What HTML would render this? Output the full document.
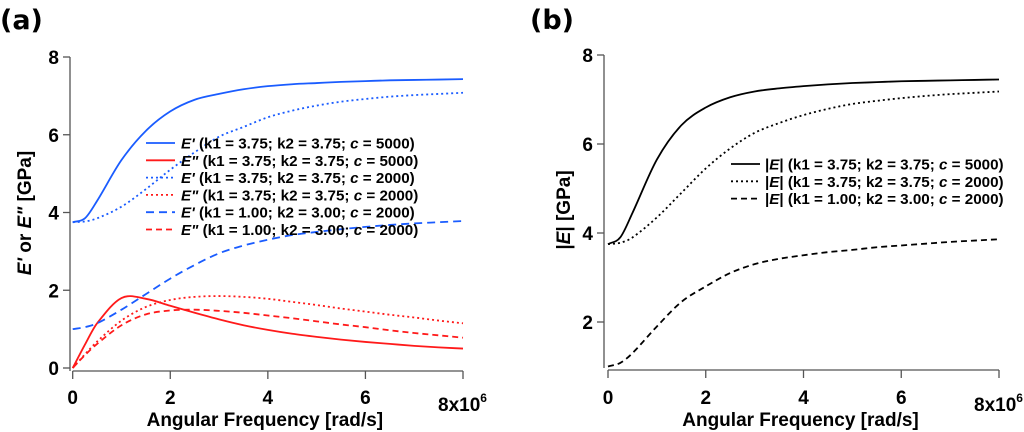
<!DOCTYPE html>
<html><head><meta charset="utf-8"><style>
body{margin:0;background:#fff}
svg{display:block;font-family:"Liberation Sans",Arial,sans-serif;font-weight:bold}
</style></head><body>
<svg id="c" width="1024" height="432" viewBox="0 0 1024 432"></svg>
<script>
const xs=[0,0.25,0.5,1,1.5,2,2.5,3,3.5,4,4.5,5,5.5,6,6.5,7,7.5,8];
const ep5000=[3.75,3.85,4.3,5.35,6.1,6.6,6.9,7.05,7.17,7.25,7.3,7.33,7.36,7.38,7.4,7.41,7.42,7.43];
const ep2000=[3.75,3.77,3.85,4.15,4.6,5.1,5.55,5.95,6.2,6.45,6.62,6.75,6.85,6.92,6.98,7.02,7.05,7.08];
const epK1=[1.0,1.05,1.15,1.5,1.9,2.3,2.65,2.95,3.15,3.3,3.42,3.5,3.57,3.63,3.68,3.72,3.75,3.78];
const epp5000=[0,0.6,1.15,1.8,1.78,1.6,1.42,1.25,1.1,0.98,0.88,0.8,0.73,0.67,0.62,0.57,0.53,0.5];
const epp2000=[0,0.35,0.68,1.22,1.57,1.75,1.83,1.85,1.83,1.78,1.7,1.62,1.53,1.45,1.37,1.3,1.22,1.15];
const eppK1=[0,0.33,0.62,1.1,1.38,1.48,1.5,1.47,1.42,1.35,1.28,1.2,1.12,1.05,0.97,0.9,0.84,0.78];
const abs5000=[3.75,3.9,4.45,5.65,6.42,6.82,7.05,7.18,7.25,7.3,7.34,7.37,7.39,7.41,7.42,7.43,7.44,7.45];
const abs2000=[3.75,3.78,3.9,4.35,4.9,5.45,5.9,6.25,6.47,6.65,6.79,6.9,6.97,7.03,7.08,7.12,7.15,7.18];
const absK1=[1.0,1.08,1.3,1.9,2.45,2.8,3.1,3.3,3.42,3.5,3.57,3.62,3.68,3.72,3.76,3.8,3.83,3.86];
const xTicks=[0,2,4,6];
const yTicksA=[0,2,4,6,8];
const yTicksB=[2,4,6,8];
const legendA=["(k1 = 3.75; k2 = 3.75; ","(k1 = 3.75; k2 = 3.75; ","(k1 = 3.75; k2 = 3.75; ","(k1 = 3.75; k2 = 3.75; ","(k1 = 1.00; k2 = 3.00; ","(k1 = 1.00; k2 = 3.00; "];
const legendC=["5000","5000","2000","2000","2000","2000"];

const NS="http://www.w3.org/2000/svg", svg=document.getElementById('c');
function el(t,a,p){const e=document.createElementNS(NS,t);for(const k in a)e.setAttribute(k,a[k]);(p||svg).appendChild(e);return e;}
function path(pts){let d="M"+pts[0][0]+","+pts[0][1];for(let i=0;i<pts.length-1;i++){const p0=pts[i-1]||pts[i],p1=pts[i],p2=pts[i+1],p3=pts[i+2]||p2;
const h=p2[0]-p1[0];const s1=(p2[1]-p0[1])/((p2[0]-p0[0])||1),s2=(p3[1]-p1[1])/((p3[0]-p1[0])||1);
d+=" C"+(p1[0]+h/3)+","+(p1[1]+s1*h/3)+" "+(p2[0]-h/3)+","+(p2[1]-s2*h/3)+" "+p2[0]+","+p2[1];}return d;}

function panel(cfg){
  const g=el('g',{},svg);
  const X=v=>cfg.x0+(cfg.x1-cfg.x0)*v/8;
  const Yf=cfg.Y;
  const ax=el('g',{stroke:'#555','stroke-width':1.3,fill:'none'},g);
  
  el('line',{x1:cfg.yax,y1:Yf(8),x2:cfg.yax,y2:cfg.ybot},ax);
  cfg.yt.forEach(t=>{el('line',{x1:cfg.yax-7,y1:Yf(t),x2:cfg.yax,y2:Yf(t)},ax);
    const tx=el('text',{x:cfg.yax-11,y:Yf(t)+7,'text-anchor':'end','font-size':19,fill:'#000',stroke:'none'},g);tx.textContent=t;
    });
  const xa=el('g',{stroke:'#555','stroke-width':1.3,fill:'none'},g);
  
  el('line',{x1:X(0),y1:cfg.xay,x2:X(8),y2:cfg.xay},xa);
  xTicks.concat([8]).forEach(t=>{el('line',{x1:X(t),y1:cfg.xay,x2:X(t),y2:cfg.xay+8},xa);});
  xTicks.forEach(t=>{const tx=el('text',{x:X(t),y:404,'text-anchor':'middle','font-size':19},g);tx.textContent=t;
    });
  const e=el('text',{x:X(8)-25,y:411,'font-size':19},g);e.innerHTML='8x10<tspan dy="-9" font-size="12">6</tspan>';
  
  const xt=el('text',{x:(X(0)+X(8))/2-3,y:426,'text-anchor':'middle','font-size':19},g);xt.textContent='Angular Frequency [rad/s]';
  
  cfg.series.forEach(s=>{const p=el('path',{d:path(xs.map((x,i)=>[X(x),Yf(s.v[i])])),fill:'none',stroke:s.c,'stroke-width':1.8,'stroke-dasharray':s.d||'none'},g);
    });
  return {X,Y:Yf,g};
}
const ya_=v=>368-(368-57)*v/8;
panel({name:'panel-a',x0:72.7,x1:463,Y:ya_,yax:70,ybot:371,xay:371,yt:yTicksA,
 series:[{v:ep5000,c:'#1a5cff',n:'storage-c5000'},{v:epp5000,c:'#ff1a1a',n:'loss-c5000'},
 {v:ep2000,c:'#1a5cff',d:'2 3',n:'storage-c2000'},{v:epp2000,c:'#ff1a1a',d:'2 3',n:'loss-c2000'},
 {v:epK1,c:'#1a5cff',d:'8 5',n:'storage-k1'},{v:eppK1,c:'#ff1a1a',d:'6 4',n:'loss-k1'}]});
const yb=v=>322-(v-2)*44.5;
panel({name:'panel-b',x0:608,x1:999,Y:yb,yax:604,ybot:368,xay:370,yt:yTicksB,
 series:[{v:abs5000,c:'#000',n:'modulus-c5000'},{v:abs2000,c:'#000',d:'2 3',n:'modulus-c2000'},{v:absK1,c:'#000',d:'6 4',n:'modulus-k1'}]});

const styA=[['#1a5cff','none',"E'"],['#ff1a1a','none','E"'],['#1a5cff','2 3',"E'"],['#ff1a1a','2 3','E"'],['#1a5cff','8 5',"E'"],['#ff1a1a','6 4','E"']];
const lgA=el('g',{},svg);
styA.forEach((s,i)=>{const y=143+i*17.3;
  const en=el('g',{},lgA);
  el('line',{x1:146,y1:y,x2:175,y2:y,stroke:s[0],'stroke-width':1.8,'stroke-dasharray':s[1]},en);
  const t=el('text',{x:181,y:y+5.5,'font-size':15.2},en);
  t.innerHTML='<tspan font-style="italic">'+s[2].replace('"','&quot;')+'</tspan> '+legendA[i]+'<tspan font-style="italic">c</tspan> = '+legendC[i]+')';});
const styB=[['none','(k1 = 3.75; k2 = 3.75; ','5000'],['2 3','(k1 = 3.75; k2 = 3.75; ','2000'],['6 4','(k1 = 1.00; k2 = 3.00; ','2000']];
const lgB=el('g',{},svg);
styB.forEach((s,i)=>{const y=164+i*17.3;
  const en=el('g',{},lgB);
  el('line',{x1:731,y1:y,x2:760,y2:y,stroke:'#000','stroke-width':1.8,'stroke-dasharray':s[0]},en);
  const t=el('text',{x:765,y:y+5.5,'font-size':15.2},en);
  t.innerHTML='|<tspan font-style="italic">E</tspan>| '+s[1]+'<tspan font-style="italic">c</tspan> = '+s[2]+')';});

const ya=el('text',{transform:'translate(31,213) rotate(-90)','text-anchor':'middle','font-size':19},svg);
ya.innerHTML='<tspan font-style="italic">E\'</tspan> or <tspan font-style="italic">E"</tspan> [GPa]';

const ybt=el('text',{transform:'translate(570,210) rotate(-90)','text-anchor':'middle','font-size':19},svg);
ybt.innerHTML='|<tspan font-style="italic">E</tspan>| [GPa]';

const pa=el('text',{x:0,y:29,'font-size':27,'font-family':'"DejaVu Sans",sans-serif'},svg);pa.textContent='(a)';

const pb=el('text',{x:530,y:29,'font-size':27,'font-family':'"DejaVu Sans",sans-serif'},svg);pb.textContent='(b)';

</script>
</body></html>
